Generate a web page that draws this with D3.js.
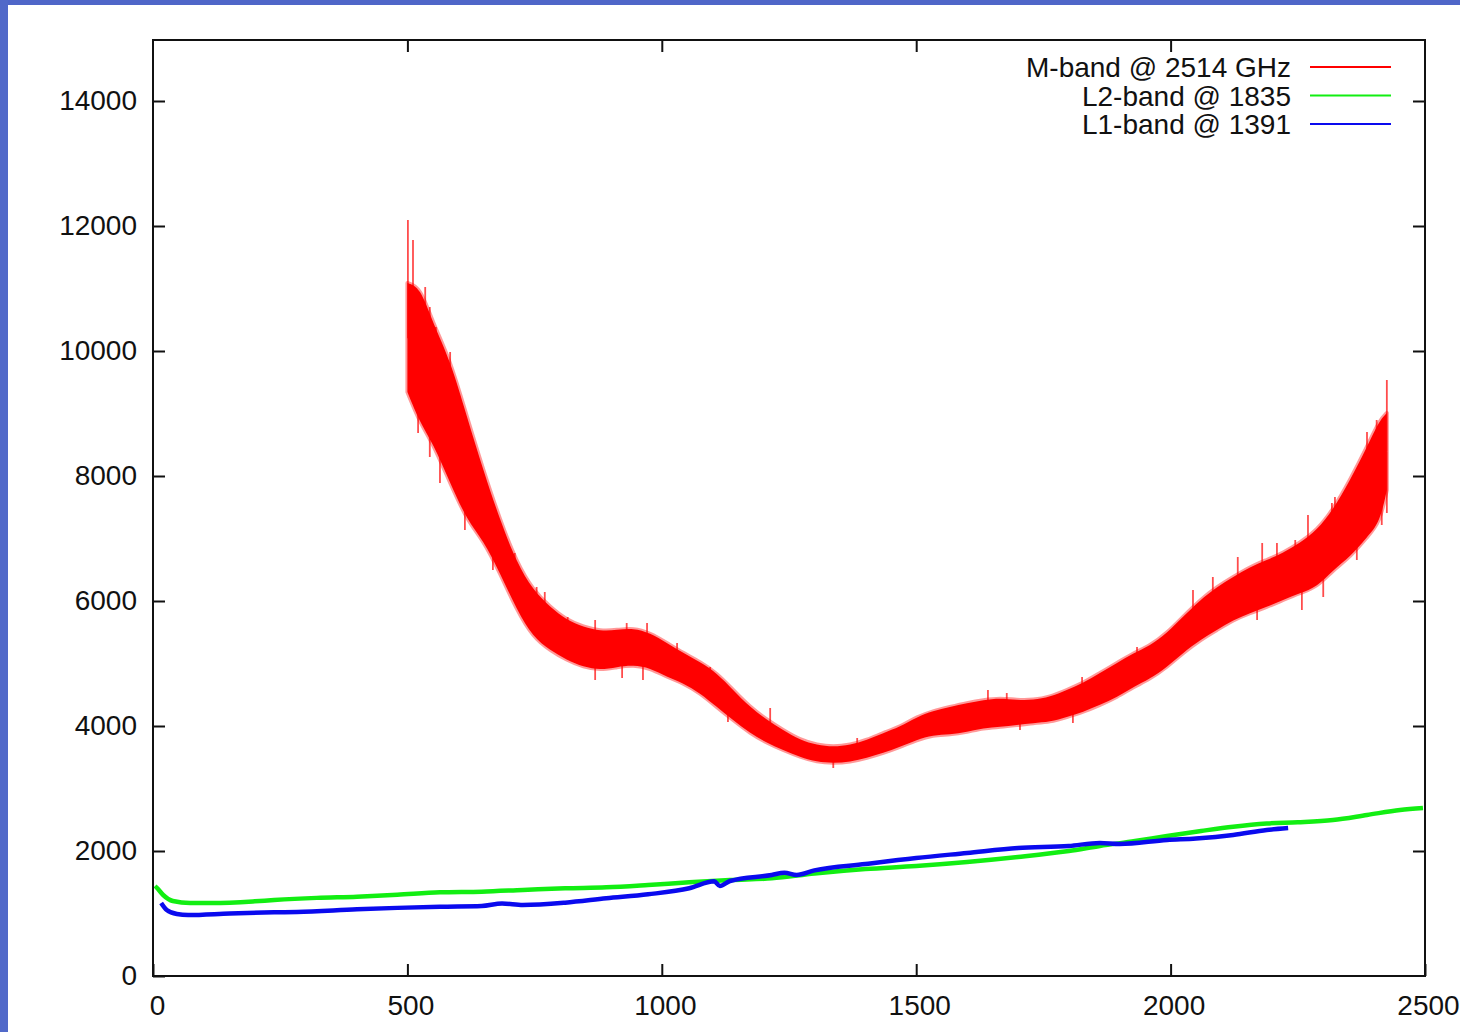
<!DOCTYPE html>
<html>
<head>
<meta charset="utf-8">
<script src="https://cdn.jsdelivr.net/npm/d3@7"></script>
<style>
  html, body { margin: 0; padding: 0; background: #ffffff; }
  svg { display: block; }
</style>
</head>
<body>
<svg id="chart" width="1460" height="1032"></svg>
<script>
// ---------------- DATA ----------------
const xTicks = [0, 500, 1000, 1500, 2000, 2500];
const yTicks = [0, 2000, 4000, 6000, 8000, 10000, 12000, 14000];

const seriesNames = ["M-band @ 2514 GHz", "L2-band @ 1835", "L1-band @ 1391"];
const seriesColors = ["#ff0000", "#12ee12", "#0a0aee"];

// M-band: noisy band, stored as lower / upper envelope
const mX    = [500, 525, 550, 584, 617, 649, 682, 715, 747, 780, 813, 846, 879, 912, 944, 977, 1010, 1042, 1075, 1108, 1140, 1173, 1207, 1238, 1272, 1305, 1337, 1370, 1403, 1435, 1468, 1501, 1533, 1566, 1600, 1632, 1665, 1698, 1730, 1763, 1796, 1828, 1861, 1895, 1927, 1959, 1993, 2024, 2058, 2091, 2123, 2156, 2189, 2221, 2254, 2288, 2319, 2353, 2386, 2411, 2425];
const mLow  = [9344, 8848, 8528, 7888, 7296, 6976, 6448, 5856, 5424, 5216, 5056, 4944, 4896, 4944, 4976, 4928, 4784, 4688, 4528, 4304, 4096, 3888, 3728, 3616, 3504, 3424, 3408, 3424, 3488, 3568, 3664, 3776, 3856, 3860, 3904, 3968, 3984, 4016, 4048, 4064, 4144, 4224, 4336, 4464, 4624, 4752, 4944, 5168, 5376, 5536, 5696, 5808, 5904, 6016, 6128, 6224, 6496, 6704, 7024, 7248, 7776];
const mHigh = [11088, 11024, 10448, 9856, 8944, 8096, 7296, 6608, 6176, 5904, 5696, 5584, 5520, 5536, 5568, 5488, 5328, 5168, 5024, 4848, 4576, 4304, 4096, 3936, 3776, 3696, 3664, 3696, 3776, 3888, 3984, 4144, 4240, 4304, 4368, 4416, 4448, 4416, 4416, 4464, 4576, 4688, 4848, 5008, 5168, 5280, 5488, 5744, 6016, 6224, 6384, 6544, 6656, 6768, 6928, 7136, 7456, 7936, 8464, 8896, 9008];
// individual noise spikes of the M-band (x, value)
const mSpikeX = [501, 511, 521, 535, 544, 544, 556, 564, 584, 603, 613, 623, 639, 662, 668, 695, 711, 754, 754, 770, 815, 869, 869, 922, 931, 963, 971, 1030, 1095, 1130, 1213, 1337, 1384, 1514, 1641, 1678, 1704, 1808, 1826, 1867, 1934, 2044, 2083, 2132, 2170, 2180, 2209, 2245, 2258, 2270, 2300, 2317, 2323, 2366, 2386, 2405, 2415, 2425, 2425];
const mSpikeY = [12096, 11776, 8688, 11024, 10704, 8304, 10384, 7888, 9984, 9056, 7136, 8576, 8304, 7728, 6496, 6928, 6768, 6224, 5584, 6144, 5744, 5696, 4736, 4768, 5648, 4736, 5648, 5328, 4944, 4064, 4288, 3328, 3808, 4176, 4576, 4528, 3936, 4048, 4784, 4736, 5264, 6176, 6384, 6704, 5696, 6928, 6928, 6976, 5856, 7376, 6064, 7568, 7664, 6656, 8704, 8896, 7216, 9536, 7408];

// L2-band
const l2X = [4, 8, 20, 39, 73, 118, 200, 238, 322, 401, 480, 564, 646, 727, 810, 891, 973, 1054, 1134, 1216, 1300, 1400, 1500, 1600, 1700, 1800, 1861, 1930, 1993, 2060, 2123, 2189, 2250, 2319, 2386, 2451, 2496];
const l2Y = [1440, 1408, 1296, 1200, 1168, 1168, 1195, 1216, 1250, 1269, 1300, 1339, 1349, 1376, 1403, 1419, 1456, 1499, 1536, 1563, 1640, 1712, 1760, 1824, 1904, 2000, 2080, 2160, 2240, 2320, 2389, 2440, 2460, 2496, 2576, 2656, 2688];

// L1-band
const l1X = [16, 27, 47, 69, 151, 238, 283, 401, 480, 564, 646, 686, 727, 810, 891, 973, 1054, 1103, 1114, 1134, 1216, 1241, 1265, 1300, 1400, 1500, 1600, 1700, 1800, 1861, 1900, 1993, 2050, 2123, 2189, 2231];
const l1Y = [1168, 1056, 992, 976, 1000, 1019, 1024, 1067, 1090, 1109, 1120, 1160, 1136, 1173, 1243, 1307, 1403, 1515, 1440, 1520, 1616, 1653, 1616, 1690, 1792, 1888, 1968, 2048, 2080, 2128, 2112, 2176, 2200, 2256, 2336, 2368];

// ---------------- DRAWING ----------------
const svg = d3.select("#chart");
const W = 1460, H = 1032;
const plot = { left: 153, right: 1425, top: 38.5, bottom: 976 };
const FONT = "'Liberation Sans', Arial, Helvetica, sans-serif";

svg.append("rect").attr("x", 0).attr("y", 0).attr("width", W).attr("height", H).attr("fill", "#ffffff");
// slide background border (blue)
svg.append("rect").attr("x", 0).attr("y", 0).attr("width", W).attr("height", 5).attr("fill", "#4f66c8");
svg.append("rect").attr("x", 0).attr("y", 0).attr("width", 8).attr("height", H).attr("fill", "#5169c9");

const x = d3.scaleLinear().domain([0, 2500]).range([plot.left, plot.right]);
const y = d3.scaleLinear().domain([0, 15000]).range([plot.bottom, plot.top]);

const clip = svg.append("defs").append("clipPath").attr("id", "plotclip");
clip.append("rect").attr("x", plot.left).attr("y", plot.top)
  .attr("width", plot.right - plot.left).attr("height", plot.bottom - plot.top);

const g = svg.append("g").attr("clip-path", "url(#plotclip)");

// M-band band
const mData = mX.map((d, i) => ({ x: d, lo: mLow[i], hi: mHigh[i] }));
const area = d3.area().x(d => x(d.x)).y0(d => y(d.lo)).y1(d => y(d.hi)).curve(d3.curveBasis);
g.append("path").datum(mData).attr("d", area)
  .attr("fill", seriesColors[0]).attr("stroke", seriesColors[0])
  .attr("stroke-width", 4).attr("stroke-opacity", 0.4).attr("stroke-linejoin", "round");
// spikes start at the band centre (piecewise scale through the envelope mid-points)
const midScale = d3.scaleLinear().domain(mX).range(mX.map((d, i) => (mLow[i] + mHigh[i]) / 2)).clamp(true);
g.selectAll("line.spike").data(mSpikeX.map((d, i) => ({ x: d, v: mSpikeY[i] })))
  .enter().append("line").attr("class", "spike")
  .attr("x1", d => x(d.x)).attr("x2", d => x(d.x))
  .attr("y1", d => y(midScale(d.x))).attr("y2", d => y(d.v))
  .attr("stroke", seriesColors[0]).attr("stroke-width", 1.8).attr("stroke-opacity", 0.7);

const line = d3.line().x(d => x(d[0])).y(d => y(d[1])).curve(d3.curveMonotoneX);
g.append("path").datum(l2X.map((d, i) => [d, l2Y[i]])).attr("d", line)
  .attr("fill", "none").attr("stroke", seriesColors[1]).attr("stroke-width", 4.5).attr("stroke-linejoin", "round");
g.append("path").datum(l1X.map((d, i) => [d, l1Y[i]])).attr("d", line)
  .attr("fill", "none").attr("stroke", seriesColors[2]).attr("stroke-width", 4.5).attr("stroke-linejoin", "round");

// axes (inward ticks, mirrored)
const tickLen = 12;
function styleAxis(sel) {
  sel.select(".domain").remove();
  sel.selectAll(".tick line").attr("stroke", "#111").attr("stroke-width", 2);
  sel.selectAll(".tick text").attr("font-family", FONT).attr("font-size", 28).attr("fill", "#111");
}
svg.append("g").attr("transform", `translate(${plot.left},0)`)
  .call(d3.axisLeft(y).tickValues(yTicks).tickSize(-tickLen).tickPadding(16).tickFormat(d3.format("d")))
  .call(styleAxis);
svg.append("g").attr("transform", `translate(${plot.right},0)`)
  .call(d3.axisRight(y).tickValues(yTicks.filter(v => v > 0)).tickSize(-tickLen).tickFormat(""))
  .call(styleAxis);
const xAxisG = svg.append("g").attr("transform", `translate(0,${plot.bottom})`)
  .call(d3.axisBottom(x).tickValues(xTicks).tickSize(-tickLen).tickPadding(14).tickFormat(d3.format("d")))
  .call(styleAxis);
xAxisG.selectAll(".tick text").attr("dy", "0.88em").attr("dx", d => d === 0 ? 4 : 3);
svg.append("g").attr("transform", `translate(0,${plot.top + 1.5})`)
  .call(d3.axisTop(x).tickValues(xTicks.slice(1, -1)).tickSize(-tickLen).tickFormat(""))
  .call(styleAxis);

// frame
svg.append("rect").attr("x", plot.left).attr("y", plot.top + 1.5)
  .attr("width", plot.right - plot.left).attr("height", plot.bottom - plot.top - 1.5)
  .attr("fill", "none").attr("stroke", "#111").attr("stroke-width", 2);

// legend
const leg = svg.append("g");
seriesNames.forEach((name, i) => {
  const yy = 67 + i * 28.5;
  leg.append("text").attr("x", 1291).attr("y", yy).attr("dy", "0.36em")
    .attr("text-anchor", "end").attr("font-family", FONT).attr("font-size", 28).attr("fill", "#111")
    .text(name);
  leg.append("line").attr("x1", 1310).attr("x2", 1391).attr("y1", yy).attr("y2", yy)
    .attr("stroke", seriesColors[i]).attr("stroke-width", 2);
});
</script>
</body>
</html>
